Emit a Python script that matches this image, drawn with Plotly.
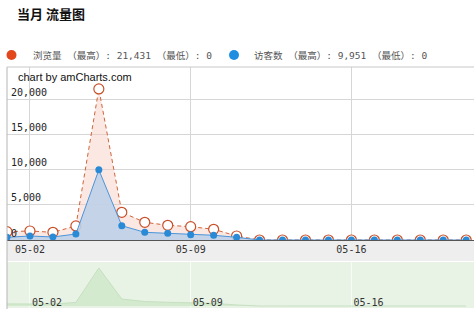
import plotly.graph_objects as go

# Daily traffic for the month
dates = ["05-01", "05-02", "05-03", "05-04", "05-05", "05-06", "05-07",
         "05-08", "05-09", "05-10", "05-11", "05-12", "05-13", "05-14",
         "05-15", "05-16", "05-17", "05-18", "05-19", "05-20", "05-21"]
page_views = [1180, 1280, 1090, 1990, 21431, 3930, 2510, 2085, 1890, 1520, 570,
              0, 0, 0, 0, 0, 0, 0, 0, 0, 0]
visitors = [380, 570, 430, 850, 9951, 2030, 1090, 950, 750, 670, 380,
            0, 0, 0, 0, 0, 0, 0, 0, 0, 0]
week_ticks = ["05-02", "05-09", "05-16"]
y_ticks = [0, 5000, 10000, 15000, 20000]

W, H = 474, 312
MONO = "DejaVu Sans Mono, Noto Sans CJK SC, sans-serif"
CJK = "Noto Sans CJK SC, sans-serif"


def px_x(p):
    return p / W


def px_y(p):
    return (H - p) / H


x_left = px_x(7)
x_range = [0, 20.34]
y_range = [0, 24540]

fig = go.Figure()

# Page views: dashed line, open circles, pale fill
fig.add_trace(go.Scatter(
    x=dates, y=page_views, mode="lines+markers", fill="tozeroy",
    fillcolor="rgba(248,205,190,0.45)",
    line=dict(color="#d0643c", width=1, dash="4px,3px"),
    marker=dict(symbol="circle", size=10, color="white",
                line=dict(color="#c8502a", width=1.2)),
    xaxis="x", yaxis="y", showlegend=False,
))

# Visitors: solid blue line, filled dots
fig.add_trace(go.Scatter(
    x=dates, y=visitors, mode="lines+markers", fill="tozeroy",
    fillcolor="rgba(190,208,232,0.9)",
    line=dict(color="#4a95dc", width=1),
    marker=dict(symbol="circle", size=7, color="#2a8ad6"),
    xaxis="x", yaxis="y", showlegend=False,
))

# Value scale labels, carried by an overlaying axis placed on the left edge
fig.add_trace(go.Scatter(
    x=dates, y=page_views, mode="none", xaxis="x", yaxis="y3",
    showlegend=False, hoverinfo="skip",
))

# Scrollbar preview of page views
fig.add_trace(go.Scatter(
    x=dates, y=page_views, mode="lines", fill="tozeroy",
    fillcolor="#d4eacf", line=dict(color="#c6e0c0", width=1),
    xaxis="x2", yaxis="y2", showlegend=False, hoverinfo="skip",
))

shapes = [
    # gray band under the date axis
    dict(type="rect", xref="paper", yref="paper", x0=x_left, x1=1,
         y0=px_y(261), y1=px_y(240.5), fillcolor="#eeeeee",
         line=dict(width=0), layer="below"),
    # scrollbar background
    dict(type="rect", xref="x2 domain", yref="y2 domain", x0=0, x1=1,
         y0=0, y1=1, fillcolor="#e8f3e5", line=dict(width=0), layer="below"),
    # outer frame
    dict(type="line", xref="paper", yref="paper", x0=x_left, x1=x_left,
         y0=px_y(67), y1=px_y(309), line=dict(color="#b5b5b5", width=1)),
    dict(type="line", xref="paper", yref="paper", x0=x_left, x1=1,
         y0=px_y(67), y1=px_y(67), line=dict(color="#c8c8c8", width=1)),
    # legend dots
    dict(type="circle", xref="paper", yref="paper",
         x0=px_x(6.5), x1=px_x(16.5), y0=px_y(60), y1=px_y(50),
         fillcolor="#e2461b", line=dict(width=0)),
    dict(type="circle", xref="paper", yref="paper",
         x0=px_x(229), x1=px_x(239), y0=px_y(60), y1=px_y(50),
         fillcolor="#1f8ee0", line=dict(width=0)),
]

annotations = [
    dict(text="<b>当月 流量图</b>", x=px_x(15), y=px_y(14), xref="paper",
         yref="paper", xanchor="left", yanchor="middle", showarrow=False,
         font=dict(family=CJK, size=13, color="#111")),
    dict(text=f"浏览量 （最高）: {max(page_views):,} （最低）: {min(page_views)}",
         x=px_x(31), y=px_y(55), xref="paper", yref="paper",
         xanchor="left", yanchor="middle", showarrow=False,
         font=dict(family=MONO, size=9.5, color="#555")),
    dict(text=f"访客数 （最高）: {max(visitors):,} （最低）: {min(visitors)}",
         x=px_x(252), y=px_y(55), xref="paper", yref="paper",
         xanchor="left", yanchor="middle", showarrow=False,
         font=dict(family=MONO, size=9.5, color="#555")),
    dict(text="chart by amCharts.com", x=px_x(16), y=px_y(77),
         xref="paper", yref="paper", xanchor="left", yanchor="middle",
         showarrow=False,
         font=dict(family="Liberation Sans, Arial, sans-serif", size=11,
                   color="#111")),
]

fig.update_layout(
    width=W, height=H, margin=dict(l=0, r=0, t=0, b=0),
    paper_bgcolor="white", plot_bgcolor="white",
    shapes=shapes, annotations=annotations, hovermode=False,
    xaxis=dict(
        type="category", domain=[x_left, 1], range=x_range,
        tickmode="array", tickvals=week_ticks, ticks="",
        showgrid=True, gridcolor="#d6d6d6", gridwidth=1,
        showline=True, linecolor="#555", linewidth=1,
        tickfont=dict(family=MONO, size=10, color="#333"),
        anchor="y", fixedrange=True,
    ),
    yaxis=dict(
        domain=[px_y(240), px_y(67)], range=y_range,
        tickmode="array", tickvals=y_ticks, showticklabels=False,
        ticks="", showgrid=True, gridcolor="#d6d6d6", gridwidth=1,
        zeroline=False, showline=False, anchor="x", fixedrange=True,
    ),
    yaxis3=dict(
        overlaying="y", side="right", anchor="free", position=x_left,
        range=y_range, tickmode="array", tickvals=y_ticks, tickformat=",d",
        ticklabelposition="outside top", ticks="", ticklen=0,
        ticklabelstandoff=3,
        showgrid=False, zeroline=False, showline=False,
        tickfont=dict(family=MONO, size=10, color="#222"),
        fixedrange=True,
    ),
    xaxis2=dict(
        type="category", domain=[x_left, 1], range=x_range,
        tickmode="array", tickvals=week_ticks, ticks="",
        ticklabelposition="inside right", ticklabelstandoff=-6,
        ticklabelshift=2,
        showgrid=True, gridcolor="#f7fbf6", gridwidth=1,
        showline=False, zeroline=False,
        tickfont=dict(family=MONO, size=10, color="#333"),
        anchor="y2", fixedrange=True,
    ),
    yaxis2=dict(
        domain=[px_y(308), px_y(262)], range=[-1128, 24815],
        showgrid=False, zeroline=False, showticklabels=False,
        anchor="x2", fixedrange=True,
    ),
)

fig.write_html("out.html")
